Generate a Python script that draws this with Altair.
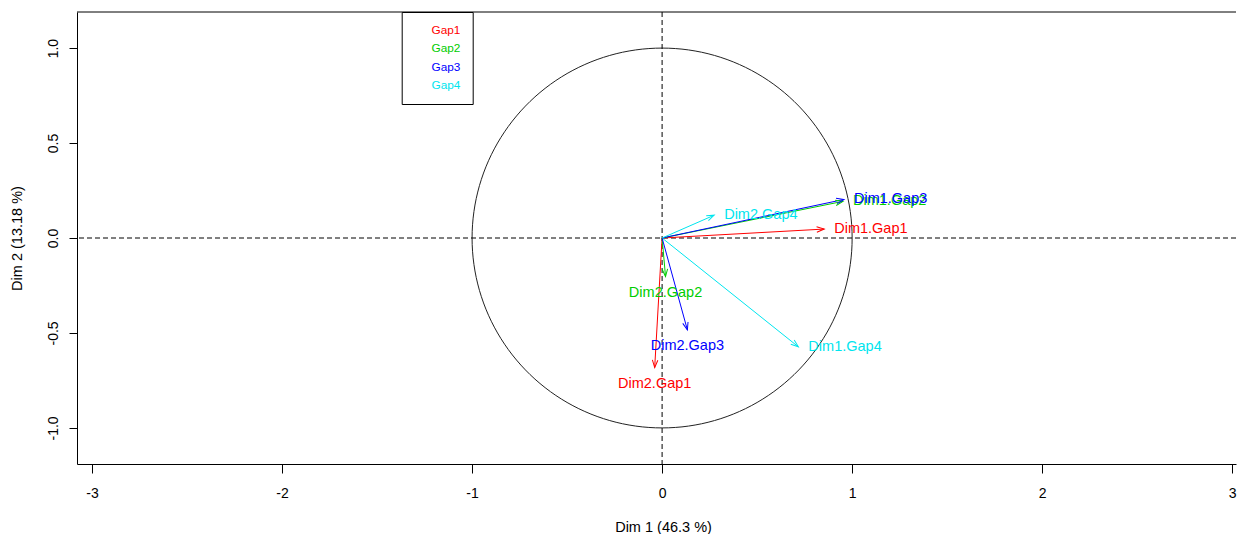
import altair as alt
import pandas as pd

# ---- data ----
groups = ["Gap1", "Gap2", "Gap3", "Gap4"]
colors = ["#FF0000", "#00CD00", "#0000FF", "#00E5EE"]
var_names = ["Dim1.Gap1", "Dim1.Gap2", "Dim1.Gap3", "Dim1.Gap4",
             "Dim2.Gap1", "Dim2.Gap2", "Dim2.Gap3", "Dim2.Gap4"]
var_group = ["Gap1", "Gap2", "Gap3", "Gap4", "Gap1", "Gap2", "Gap3", "Gap4"]
dim1 = [0.853, 0.952, 0.957, 0.717, -0.039, 0.018, 0.133, 0.274]
dim2 = [0.047, 0.193, 0.203, -0.573, -0.682, -0.203, -0.484, 0.120]
x_ticks = [-3, -2, -1, 0, 1, 2, 3]
y_ticks = [-1.0, -0.5, 0.0, 0.5, 1.0]
x_title = "Dim 1 (46.3 %)"
y_title = "Dim 2 (13.18 %)"

df = pd.DataFrame({"name": var_names, "group": var_group, "x": dim1, "y": dim2})
zero_df = pd.DataFrame({"v": [0.0]})

W, H = 1159, 452
FONT = "Liberation Sans"
MINUS = "replace(datum.label, '\u2212', '-')"

xs = alt.Scale(domain=[-3.079, 3.02], nice=False, zero=False)
ys = alt.Scale(domain=[-1.19, 1.19], nice=False, zero=False)
cs = alt.Scale(domain=groups, range=colors)

xa = alt.Axis(values=x_ticks, title=x_title, format="d", labelExpr=MINUS,
              grid=False, domain=True, domainColor="black", tickColor="black",
              tickSize=9, labelPadding=13, labelFontSize=14, labelFont=FONT,
              labelColor="black", labelFlush=False, titleFont=FONT,
              titleFontSize=14.5, titleFontWeight="normal", titleColor="black",
              titleBaseline="alphabetic", titleAlign="center", titleX=586, titleY=67)
ya = alt.Axis(values=y_ticks, title=y_title, format=".1f", labelExpr=MINUS,
              grid=False, domain=True, domainColor="black", tickColor="black",
              tickSize=8, labelPadding=12, labelFontSize=14, labelFont=FONT,
              labelColor="black", labelAngle=270, labelAlign="center",
              labelBaseline="alphabetic", labelFlush=False, titleFont=FONT,
              titleFontSize=14.5, titleFontWeight="normal", titleColor="black",
              titleAngle=270, titleBaseline="alphabetic", titleAlign="center",
              titleX=-56, titleY=H / 2)

legend = alt.Legend(orient="none", legendX=324.7, legendY=0, title=None,
                    padding=12, strokeColor="black", fillColor="white",
                    symbolOpacity=0, symbolSize=16, symbolType="circle",
                    symbolStrokeWidth=0, labelOffset=6, labelFontSize=11.8,
                    labelFont=FONT, rowPadding=5.3,
                    labelColor={"expr": "scale('color', datum.value)"})

color_enc = alt.Color("group:N", scale=cs, legend=legend)

# unit correlation circle
circle = alt.Chart(alt.sequence(0, 361, 2, as_="t")).transform_calculate(
    cx="cos(datum.t * PI / 180)", cy="sin(datum.t * PI / 180)"
).mark_line(color="#222222", strokeWidth=1).encode(
    x=alt.X("cx:Q", scale=xs, axis=xa),
    y=alt.Y("cy:Q", scale=ys, axis=ya),
    order="t:Q",
)

vline = alt.Chart(zero_df).mark_rule(color="black", strokeWidth=1, strokeDash=[5, 3]).encode(
    x=alt.X("v:Q", scale=xs, axis=xa)
)
hline = alt.Chart(zero_df).mark_rule(color="black", strokeWidth=1, strokeDash=[5, 3]).encode(
    y=alt.Y("v:Q", scale=ys, axis=ya)
)
top_border = alt.Chart(zero_df).mark_rule(color="black", strokeWidth=1).encode(
    x=alt.value(0), x2=alt.value(W), y=alt.value(0)
)

base = alt.Chart(df)

shafts = base.transform_calculate(x0="0", y0="0").mark_rule(strokeWidth=1).encode(
    x=alt.X("x0:Q", scale=xs, axis=xa),
    y=alt.Y("y0:Q", scale=ys, axis=ya),
    x2="x:Q",
    y2="y:Q",
    color=color_enc,
)

heads = base.transform_calculate(
    ang="(atan2(datum.x, datum.y) * 180 / PI + 360) % 360"
).mark_point(shape="M -0.364 1 L 0 0 L 0.364 1", filled=False, size=225,
             strokeWidth=1, opacity=1).encode(
    x=alt.X("x:Q", scale=xs, axis=xa),
    y=alt.Y("y:Q", scale=ys, axis=ya),
    angle=alt.Angle("ang:Q", scale=None),
    color=color_enc,
)

labels_right = base.transform_filter("abs(datum.x) >= abs(datum.y)").mark_text(
    align="left", baseline="middle", dx=10, font=FONT, fontSize=14.5
).encode(
    x=alt.X("x:Q", scale=xs, axis=xa),
    y=alt.Y("y:Q", scale=ys, axis=ya),
    text="name:N",
    color=color_enc,
)

labels_below = base.transform_filter("abs(datum.x) < abs(datum.y)").mark_text(
    align="center", baseline="middle", dy=16, font=FONT, fontSize=14.5
).encode(
    x=alt.X("x:Q", scale=xs, axis=xa),
    y=alt.Y("y:Q", scale=ys, axis=ya),
    text="name:N",
    color=color_enc,
)

chart = alt.layer(
    circle, vline, hline, top_border, shafts, heads, labels_right, labels_below
).properties(
    width=W, height=H,
    autosize=alt.AutoSizeParams(type="none"),
    padding={"left": 69, "top": 4, "right": 4, "bottom": 70},
    background="white",
).configure_view(stroke=None)

chart.save("out.html", embed_options={"renderer": "svg", "actions": False})
